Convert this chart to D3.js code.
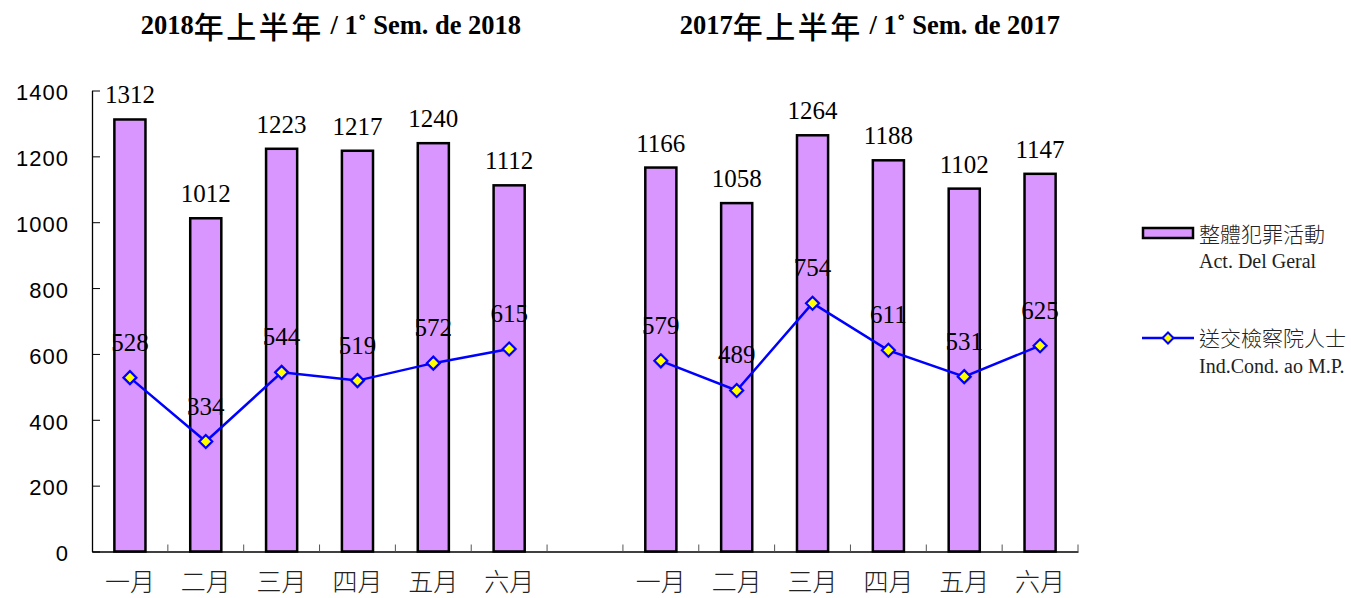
<!DOCTYPE html>
<html>
<head>
<meta charset="utf-8">
<script src="https://cdn.jsdelivr.net/npm/d3@7"></script>
<style>
  body { margin: 0; background: #fff; }
  svg { display: block; }
</style>
</head>
<body>
<svg id="chart" width="1351" height="598"></svg>
<script>
// chart data
var months = ["一月", "二月", "三月", "四月", "五月", "六月"];
var groups = ["2018", "2017"];
var titles = [
  ["2018", "年上半年", " / 1˚ Sem. de 2018"],
  ["2017", "年上半年", " / 1˚ Sem. de 2017"]
];
var crime2018 = [1312, 1012, 1223, 1217, 1240, 1112];
var crime2017 = [1166, 1058, 1264, 1188, 1102, 1147];
var sent2018 = [528, 334, 544, 519, 572, 615];
var sent2017 = [579, 489, 754, 611, 531, 625];
var yTicks = [0, 200, 400, 600, 800, 1000, 1200, 1400];
var legendNames = [["整體犯罪活動", "Act. Del Geral"], ["送交檢察院人士", "Ind.Cond. ao M.P."]];

var svg = d3.select("#chart");
var serif = "'Liberation Serif', 'Times New Roman', serif";
var sans = "'Liberation Sans', Arial, sans-serif";
var cjk = "'Noto Sans CJK TC', 'Noto Sans CJK SC', sans-serif";

// one band per month, plus an empty band between the two halves
var keys = [];
months.forEach(function(m, i) { keys.push("a" + i); });
keys.push("gap");
months.forEach(function(m, i) { keys.push("b" + i); });

var x = d3.scaleBand().domain(keys).range([92, 1078]).padding(0);
var y = d3.scaleLinear().domain([0, 1400]).range([551.5, 90.5]);
var barW = x.bandwidth() * 0.41;

var rows = [];
months.forEach(function(m, i) {
  rows.push({ key: "a" + i, crime: crime2018[i], sent: sent2018[i], g: 0 });
});
months.forEach(function(m, i) {
  rows.push({ key: "b" + i, crime: crime2017[i], sent: sent2017[i], g: 1 });
});

// bars
svg.selectAll(".bar")
  .data(rows)
  .enter()
  .append("rect")
  .attr("class", "bar")
  .attr("x", function(d) { return x(d.key) + (x.bandwidth() - barW) / 2; })
  .attr("y", function(d) { return y(d.crime); })
  .attr("width", barW)
  .attr("height", function(d) { return y(0) - y(d.crime); })
  .attr("fill", "#da96ff")
  .attr("stroke", "#000")
  .attr("stroke-width", 2.5);

svg.selectAll(".barlabel")
  .data(rows)
  .enter()
  .append("text")
  .attr("x", function(d) { return x(d.key) + x.bandwidth() / 2; })
  .attr("y", function(d) { return y(d.crime) - 16; })
  .attr("text-anchor", "middle")
  .attr("font-family", serif)
  .attr("font-size", 25)
  .text(function(d) { return d.crime; });

// axes
var yAxis = d3.axisLeft(y).tickValues(yTicks).tickFormat(d3.format("d"))
  .tickSizeInner(-8).tickSizeOuter(0).tickPadding(23);
var gy = svg.append("g").attr("transform", "translate(92,0)").call(yAxis);
gy.select(".domain").attr("stroke-width", 1.3);
gy.selectAll("text")
  .attr("font-family", sans)
  .attr("font-size", 22)
  .attr("letter-spacing", 1)
  .attr("dy", "0.42em")
  .attr("fill", "#000");

var xAxis = d3.axisBottom(x).tickSize(0).tickPadding(0)
  .tickFormat(function(k) { return k === "gap" ? "" : months[+k.slice(1)]; });
var gx = svg.append("g").attr("transform", "translate(0," + y(0) + ")").call(xAxis);
gx.select(".domain").attr("stroke-width", 1.5);
gx.selectAll("text")
  .attr("font-family", cjk)
  .attr("font-weight", 300)
  .attr("font-size", 25)
  .attr("dy", 0)
  .attr("y", 39)
  .attr("fill", "#222");

// boundary ticks on the x axis
gx.selectAll(".btick")
  .data(keys)
  .enter()
  .append("line")
  .attr("x1", function(k) { return x(k) + x.bandwidth(); })
  .attr("x2", function(k) { return x(k) + x.bandwidth(); })
  .attr("y1", 0)
  .attr("y2", -7)
  .attr("stroke", "#555")
  .attr("stroke-width", 1);

// lines, one per half
var line = d3.line()
  .x(function(d) { return x(d.key) + x.bandwidth() / 2; })
  .y(function(d) { return y(d.sent); });

groups.forEach(function(g, gi) {
  var part = rows.filter(function(d) { return d.g === gi; });
  svg.append("path")
    .datum(part)
    .attr("d", line)
    .attr("fill", "none")
    .attr("stroke", "#0000ff")
    .attr("stroke-width", 2.5);
});

var diamond = "M0,-6.5L6.5,0L0,6.5L-6.5,0Z";
svg.selectAll(".marker")
  .data(rows)
  .enter()
  .append("path")
  .attr("d", diamond)
  .attr("transform", function(d) {
    return "translate(" + (x(d.key) + x.bandwidth() / 2) + "," + y(d.sent) + ")";
  })
  .attr("fill", "#ffff00")
  .attr("stroke", "#0000ff")
  .attr("stroke-width", 2.2);

svg.selectAll(".linelabel")
  .data(rows)
  .enter()
  .append("text")
  .attr("x", function(d) { return x(d.key) + x.bandwidth() / 2; })
  .attr("y", function(d) { return y(d.sent) - 27; })
  .attr("text-anchor", "middle")
  .attr("font-family", serif)
  .attr("font-size", 25)
  .text(function(d) { return d.sent; });

// titles
var titleX = [331, 870];
titles.forEach(function(t, i) {
  var tt = svg.append("text")
    .attr("x", titleX[i])
    .attr("y", 34)
    .attr("text-anchor", "middle")
    .attr("font-family", serif)
    .attr("font-weight", "bold")
    .attr("font-size", 26.5);
  tt.append("tspan").text(t[0]);
  tt.append("tspan").attr("font-family", cjk).attr("font-weight", 500)
    .attr("font-size", 30).attr("letter-spacing", 2.5).attr("dy", 4).text(t[1]);
  tt.append("tspan").attr("dy", -4).text(t[2]);
});

// legend
var lg = svg.append("g");
lg.append("rect")
  .attr("x", 1143).attr("y", 228)
  .attr("width", 50).attr("height", 10)
  .attr("fill", "#da96ff")
  .attr("stroke", "#000")
  .attr("stroke-width", 2.5);
lg.append("line")
  .attr("x1", 1142).attr("x2", 1194)
  .attr("y1", 338).attr("y2", 338)
  .attr("stroke", "#0000ff")
  .attr("stroke-width", 2.5);
lg.append("path")
  .attr("d", "M0,-5.5L5.5,0L0,5.5L-5.5,0Z")
  .attr("transform", "translate(1168,338)")
  .attr("fill", "#ffff00")
  .attr("stroke", "#0000ff")
  .attr("stroke-width", 2);

var legendY = [[242, 268], [346, 373]];
legendNames.forEach(function(n, i) {
  lg.append("text")
    .attr("x", 1199).attr("y", legendY[i][0])
    .attr("font-family", cjk)
    .attr("font-weight", 300)
    .attr("font-size", 21)
    .attr("fill", "#222")
    .text(n[0]);
  lg.append("text")
    .attr("x", 1199).attr("y", legendY[i][1])
    .attr("font-family", serif)
    .attr("font-size", 20)
    .attr("fill", "#222")
    .text(n[1]);
});
</script>
</body>
</html>
